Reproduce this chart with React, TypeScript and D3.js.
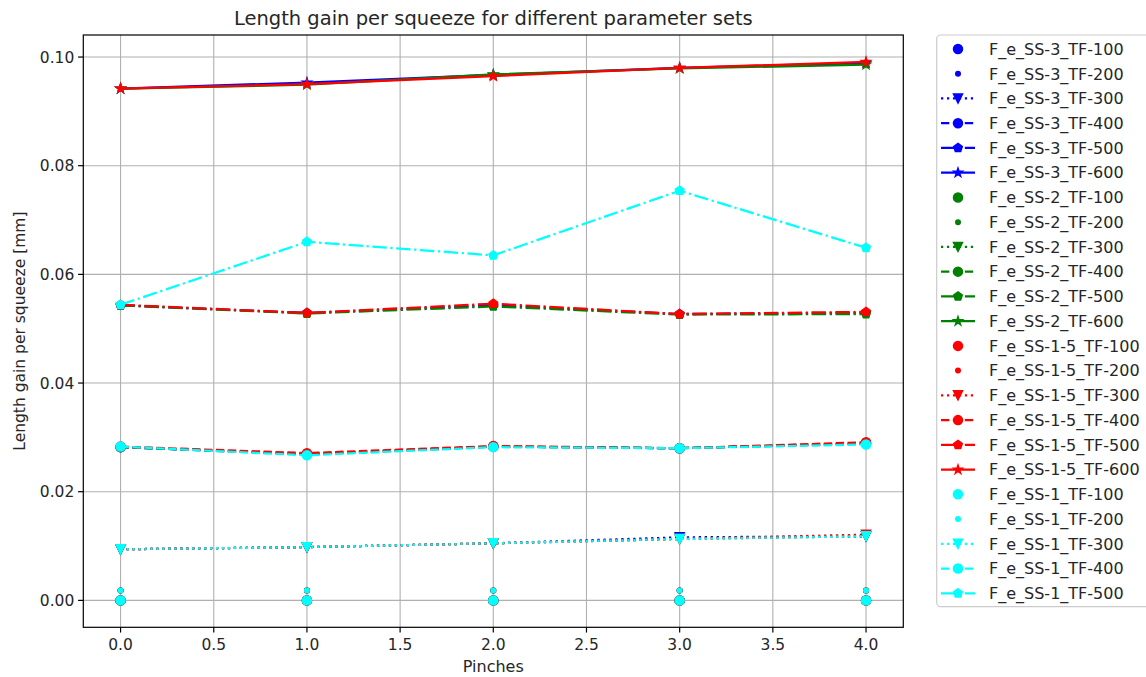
import React from "react";
import * as d3 from "d3";

// Pinch count on the x axis
const pinches = [0, 1, 2, 3, 4];

// Length gain per squeeze [mm], one array per parameter set
const ss3_tf100 = [0, 0, 0, 0, 0];
const ss3_tf200 = [0.0018, 0.0018, 0.0018, 0.0018, 0.0018];
const ss3_tf300 = [0.0094, 0.0098, 0.0105, 0.0116, 0.0118];
const ss3_tf400 = [0.0282, 0.0269, 0.0283, 0.028, 0.0289];
const ss3_tf500 = [0.0543, 0.0529, 0.0543, 0.0527, 0.0529];
const ss3_tf600 = [0.0942, 0.0953, 0.0967, 0.098, 0.0989];

const ss2_tf100 = [0, 0, 0, 0, 0];
const ss2_tf200 = [0.0018, 0.0018, 0.0018, 0.0018, 0.0018];
const ss2_tf300 = [0.0094, 0.0098, 0.0105, 0.0113, 0.0118];
const ss2_tf400 = [0.0282, 0.0269, 0.0283, 0.028, 0.0289];
const ss2_tf500 = [0.0543, 0.0528, 0.0541, 0.0526, 0.0527];
const ss2_tf600 = [0.0942, 0.0949, 0.0968, 0.0979, 0.0986];

const ss15_tf100 = [0, 0, 0, 0, 0];
const ss15_tf200 = [0.0018, 0.0018, 0.0018, 0.0018, 0.0018];
const ss15_tf300 = [0.0094, 0.0098, 0.0105, 0.0113, 0.0121];
const ss15_tf400 = [0.0283, 0.0271, 0.0284, 0.028, 0.0291];
const ss15_tf500 = [0.0544, 0.0529, 0.0546, 0.0527, 0.0531];
const ss15_tf600 = [0.0942, 0.095, 0.0965, 0.098, 0.0991];

const ss1_tf100 = [0, 0, 0, 0, 0];
const ss1_tf200 = [0.0018, 0.0018, 0.0018, 0.0018, 0.0018];
const ss1_tf300 = [0.0094, 0.0098, 0.0105, 0.0113, 0.0118];
const ss1_tf400 = [0.0283, 0.0267, 0.0282, 0.028, 0.0287];
const ss1_tf500 = [0.0544, 0.066, 0.0635, 0.0754, 0.0649];

const yTicks = [0, 0.02, 0.04, 0.06, 0.08, 0.1];
const xTicks = [0, 0.5, 1, 1.5, 2, 2.5, 3, 3.5, 4];

type Style = { marker: string; dash: string | null };

// Marker and line style for each TF value
const tfStyles: Record<string, Style> = {
  "TF-100": { marker: "o", dash: null },
  "TF-200": { marker: ".", dash: null },
  "TF-300": { marker: "v", dash: "dotted" },
  "TF-400": { marker: "o", dash: "dashed" },
  "TF-500": { marker: "p", dash: "dashdot" },
  "TF-600": { marker: "*", dash: "solid" },
};

const setColors: Record<string, string> = {
  "SS-3": "#0000ff",
  "SS-2": "#008000",
  "SS-1-5": "#ff0000",
  "SS-1": "#00ffff",
};

const series = [
  { set: "SS-3", tf: "TF-100", values: ss3_tf100 },
  { set: "SS-3", tf: "TF-200", values: ss3_tf200 },
  { set: "SS-3", tf: "TF-300", values: ss3_tf300 },
  { set: "SS-3", tf: "TF-400", values: ss3_tf400 },
  { set: "SS-3", tf: "TF-500", values: ss3_tf500 },
  { set: "SS-3", tf: "TF-600", values: ss3_tf600 },
  { set: "SS-2", tf: "TF-100", values: ss2_tf100 },
  { set: "SS-2", tf: "TF-200", values: ss2_tf200 },
  { set: "SS-2", tf: "TF-300", values: ss2_tf300 },
  { set: "SS-2", tf: "TF-400", values: ss2_tf400 },
  { set: "SS-2", tf: "TF-500", values: ss2_tf500 },
  { set: "SS-2", tf: "TF-600", values: ss2_tf600 },
  { set: "SS-1-5", tf: "TF-100", values: ss15_tf100 },
  { set: "SS-1-5", tf: "TF-200", values: ss15_tf200 },
  { set: "SS-1-5", tf: "TF-300", values: ss15_tf300 },
  { set: "SS-1-5", tf: "TF-400", values: ss15_tf400 },
  { set: "SS-1-5", tf: "TF-500", values: ss15_tf500 },
  { set: "SS-1-5", tf: "TF-600", values: ss15_tf600 },
  { set: "SS-1", tf: "TF-100", values: ss1_tf100 },
  { set: "SS-1", tf: "TF-200", values: ss1_tf200 },
  { set: "SS-1", tf: "TF-300", values: ss1_tf300 },
  { set: "SS-1", tf: "TF-400", values: ss1_tf400 },
  { set: "SS-1", tf: "TF-500", values: ss1_tf500 },
];

const W = 1146;
const H = 677;
const plot = { left: 83.3, right: 903.3, top: 35, bottom: 627.3 };
const LW = 2.25;
const MS = 4.5; // half marker size in px
const FONT = "DejaVu Sans, sans-serif";

const dashArrays: Record<string, string | undefined> = {
  solid: undefined,
  dashed: [3.7, 1.6].map((d) => d * LW).join(" "),
  dashdot: [6.4, 1.6, 1, 1.6].map((d) => d * LW).join(" "),
  dotted: [1, 1.65].map((d) => d * LW).join(" "),
};

const polygon = (pts: [number, number][]) => (d3.line()(pts) as string) + "Z";

function markerPath(marker: string): string {
  const r = MS;
  if (marker === "o") return d3.symbol(d3.symbolCircle, Math.PI * r * r)() as string;
  if (marker === ".") return d3.symbol(d3.symbolCircle, Math.PI * (r / 2) * (r / 2))() as string;
  if (marker === "v") return polygon([[0, r], [-r, -r], [r, -r]]);
  if (marker === "p")
    return polygon(
      d3.range(5).map((k) => {
        const a = -Math.PI / 2 + (k * 2 * Math.PI) / 5;
        return [r * Math.cos(a), r * Math.sin(a)] as [number, number];
      })
    );
  // five-pointed star
  return polygon(
    d3.range(10).map((k) => {
      const a = -Math.PI / 2 + (k * Math.PI) / 5;
      const rr = k % 2 === 0 ? r : r * 0.381966;
      return [rr * Math.cos(a), rr * Math.sin(a)] as [number, number];
    })
  );
}

function pad([lo, hi]: [number, number]): [number, number] {
  const m = (hi - lo) * 0.05;
  return [lo - m, hi + m];
}

export default function App() {
  const xExt = d3.extent(pinches) as [number, number];
  const allVals = series.flatMap((s) => s.values);
  const yExt = d3.extent(allVals) as [number, number];

  const x = d3.scaleLinear().domain(pad(xExt)).range([plot.left, plot.right]);
  const y = d3.scaleLinear().domain(pad(yExt)).range([plot.bottom, plot.top]);

  const line = d3
    .line<number>()
    .x((_, i) => x(pinches[i]))
    .y((v) => y(v));

  const legendX = 936.7;
  const legendTop = 35;
  const rowH = 24.74;
  const row0 = 49;

  return (
    <svg
      width={W}
      height={H}
      viewBox={`0 0 ${W} ${H}`}
      style={{ position: "absolute", left: 0, top: 0, background: "#fff" }}
      fontFamily={FONT}
    >
      <rect x={0} y={0} width={W} height={H} fill="#fff" />
      <defs>
        <clipPath id="plot-area">
          <rect x={plot.left} y={plot.top} width={plot.right - plot.left} height={plot.bottom - plot.top} />
        </clipPath>
      </defs>

      {/* grid */}
      <g stroke="#b0b0b0" strokeWidth={1.1}>
        {xTicks.map((t) => (
          <line key={"gx" + t} x1={x(t)} x2={x(t)} y1={plot.top} y2={plot.bottom} />
        ))}
        {yTicks.map((t) => (
          <line key={"gy" + t} x1={plot.left} x2={plot.right} y1={y(t)} y2={y(t)} />
        ))}
      </g>

      {/* data series */}
      <g clipPath="url(#plot-area)">
        {series.map((s, i) => {
          const st = tfStyles[s.tf];
          const c = setColors[s.set];
          const mp = markerPath(st.marker);
          return (
            <g key={i}>
              {st.dash && (
                <path
                  d={line(s.values) as string}
                  fill="none"
                  stroke={c}
                  strokeWidth={LW}
                  strokeDasharray={dashArrays[st.dash]}
                  strokeLinejoin="round"
                />
              )}
              {s.values.map((v, j) => (
                <path
                  key={j}
                  d={mp}
                  transform={`translate(${x(pinches[j])},${y(v)})`}
                  fill={c}
                  stroke={c}
                  strokeWidth={1.5}
                  strokeLinejoin="miter"
                />
              ))}
            </g>
          );
        })}
      </g>

      {/* frame */}
      <rect
        x={plot.left}
        y={plot.top}
        width={plot.right - plot.left}
        height={plot.bottom - plot.top}
        fill="none"
        stroke="#000"
        strokeWidth={1.2}
      />

      {/* axes ticks */}
      <g fontSize={15.5} fill="#262626">
        {yTicks.map((t) => (
          <g key={"yt" + t}>
            <line x1={plot.left - 5.25} x2={plot.left} y1={y(t)} y2={y(t)} stroke="#000" strokeWidth={1.2} />
            <text x={plot.left - 9} y={y(t)} dy="0.36em" textAnchor="end">
              {d3.format(".2f")(t)}
            </text>
          </g>
        ))}
        {xTicks.map((t) => (
          <g key={"xt" + t}>
            <line x1={x(t)} x2={x(t)} y1={plot.bottom} y2={plot.bottom + 5.25} stroke="#000" strokeWidth={1.2} />
            <text x={x(t)} y={plot.bottom + 22.5} textAnchor="middle">
              {d3.format(".1f")(t)}
            </text>
          </g>
        ))}
      </g>

      <text x={(plot.left + plot.right) / 2} y={672} textAnchor="middle" fontSize={16} fill="#262626">
        Pinches
      </text>
      <text
        transform={`translate(25,${(plot.top + plot.bottom) / 2}) rotate(-90)`}
        textAnchor="middle"
        fontSize={15.5}
        fill="#262626"
      >
        Length gain per squeeze [mm]
      </text>
      <text x={(plot.left + plot.right) / 2} y={25} textAnchor="middle" fontSize={19.5} fill="#262626">
        Length gain per squeeze for different parameter sets
      </text>

      {/* legend */}
      <rect
        x={legendX}
        y={legendTop}
        width={W - legendX + 4}
        height={606.7 - legendTop}
        rx={4}
        fill="#fff"
        fillOpacity={0.8}
        stroke="#cccccc"
        strokeWidth={1.2}
      />
      {series.map((s, i) => {
        const st = tfStyles[s.tf];
        const c = setColors[s.set];
        const cy = row0 + i * rowH;
        return (
          <g key={"lg" + i}>
            {st.dash && (
              <line
                x1={941}
                x2={975}
                y1={cy}
                y2={cy}
                stroke={c}
                strokeWidth={LW}
                strokeDasharray={dashArrays[st.dash]}
              />
            )}
            <path d={markerPath(st.marker)} transform={`translate(958,${cy})`} fill={c} stroke={c} strokeWidth={1.5} />
            <text x={989} y={cy} dy="0.36em" fontSize={16} fill="#262626">
              {`F_e_${s.set}_${s.tf}`}
            </text>
          </g>
        );
      })}
    </svg>
  );
}
